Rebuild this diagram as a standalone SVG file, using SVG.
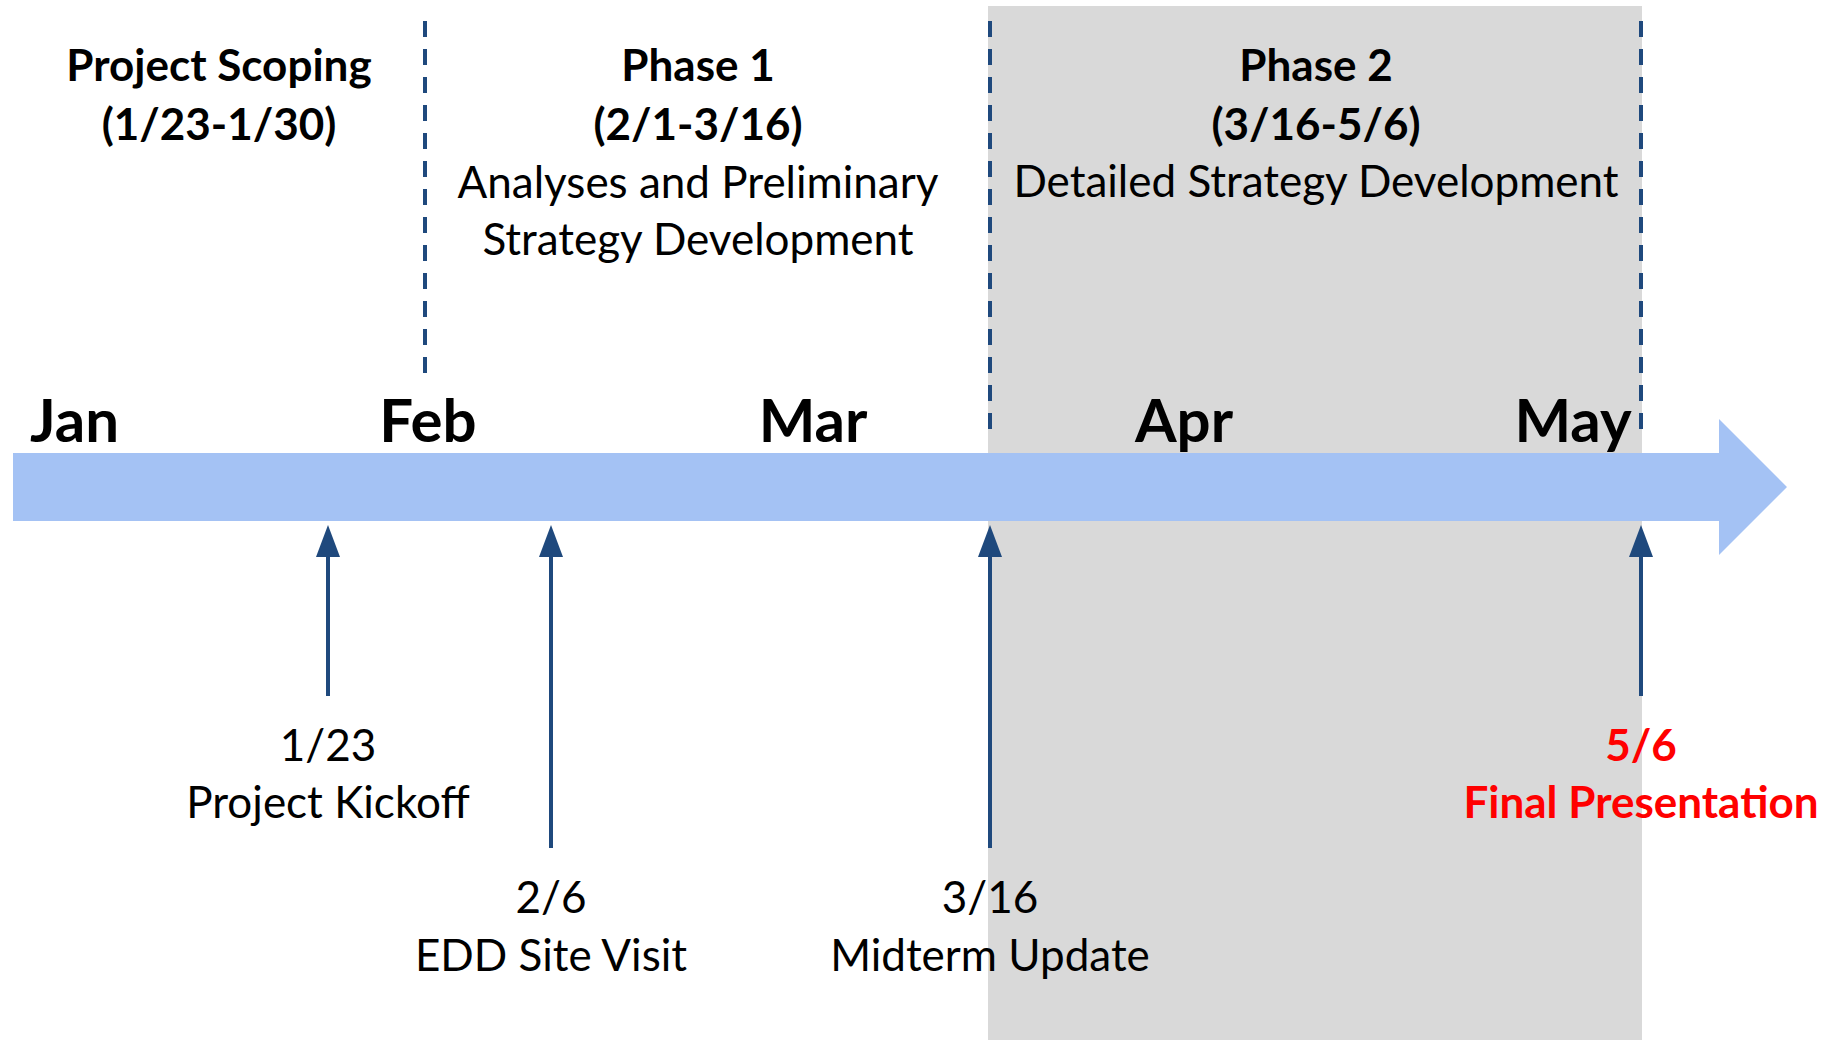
<svg xmlns="http://www.w3.org/2000/svg" width="1835" height="1040" viewBox="0 0 1835 1040">
<style>
text{font-family:Lato,"Open Sans","Liberation Sans",sans-serif;fill:#000;text-anchor:middle}
.b{font-weight:700;font-size:44px}
.r{font-weight:400;font-size:44px}
.m{font-weight:700;font-size:60px}
.red{fill:#FF0000;font-weight:700;font-size:44px}
.dash{stroke:#1F497D;stroke-width:4;stroke-dasharray:16 12;fill:none}
.ms{stroke:#1F497D;stroke-width:4;fill:none;marker-end:url(#ah)}
</style>
<defs>
<marker id="ah" markerUnits="userSpaceOnUse" markerWidth="32" markerHeight="24" viewBox="0 0 32 24" refX="17" refY="12" orient="auto">
<path d="M0,0 L32,12 L0,24 Z" fill="#1F497D"/>
</marker>
</defs>
<rect width="1835" height="1040" fill="#FFFFFF"/>
<g id="phase2-band"><rect x="988" y="6" width="654" height="1034" fill="#D9D9D9"/></g>
<g id="dividers">
<line class="dash" x1="425" y1="21" x2="425" y2="373"/>
<line class="dash" x1="990" y1="21" x2="990" y2="429"/>
<line class="dash" x1="1641" y1="21" x2="1641" y2="429"/>
</g>
<g id="scoping">
<text class="b" x="219" y="81">Project Scoping</text>
<text class="b" x="219" y="140">(1/23-1/30)</text>
</g>
<g id="phase1">
<text class="b" x="698" y="81">Phase 1</text>
<text class="b" x="698" y="140">(2/1-3/16)</text>
<text class="r" x="698" y="198">Analyses and Preliminary</text>
<text class="r" x="698" y="255">Strategy Development</text>
</g>
<g id="phase2">
<text class="b" x="1316" y="81">Phase 2</text>
<text class="b" x="1316" y="140">(3/16-5/6)</text>
<text class="r" x="1316" y="197">Detailed Strategy Development</text>
</g>
<g id="months">
<text class="m" x="30" y="442" style="text-anchor:start">Jan</text>
<text class="m" x="428" y="442">Feb</text>
<text class="m" x="813" y="442">Mar</text>
<text class="m" x="1184" y="442">Apr</text>
<text class="m" x="1573" y="442">May</text>
</g>
<g id="timeline"><polygon points="13,453 1719,453 1719,419 1787,487 1719,555 1719,521 13,521" fill="#A4C2F4"/></g>
<g id="connectors">
<line class="ms" x1="328" y1="696" x2="328" y2="540"/>
<line class="ms" x1="551" y1="848" x2="551" y2="540"/>
<line class="ms" x1="990" y1="848" x2="990" y2="540"/>
<line class="ms" x1="1641" y1="696" x2="1641" y2="540"/>
</g>
<g id="m-kickoff">
<text class="r" x="328" y="761">1/23</text>
<text class="r" x="328" y="818">Project Kickoff</text>
</g>
<g id="m-site">
<text class="r" x="551" y="913">2/6</text>
<text class="r" x="551" y="971">EDD Site Visit</text>
</g>
<g id="m-midterm">
<text class="r" x="990" y="913">3/16</text>
<text class="r" x="990" y="971">Midterm Update</text>
</g>
<g id="m-final">
<text class="red" x="1641" y="761">5/6</text>
<text class="red" x="1641" y="818">Final Presentation</text>
</g>
</svg>
